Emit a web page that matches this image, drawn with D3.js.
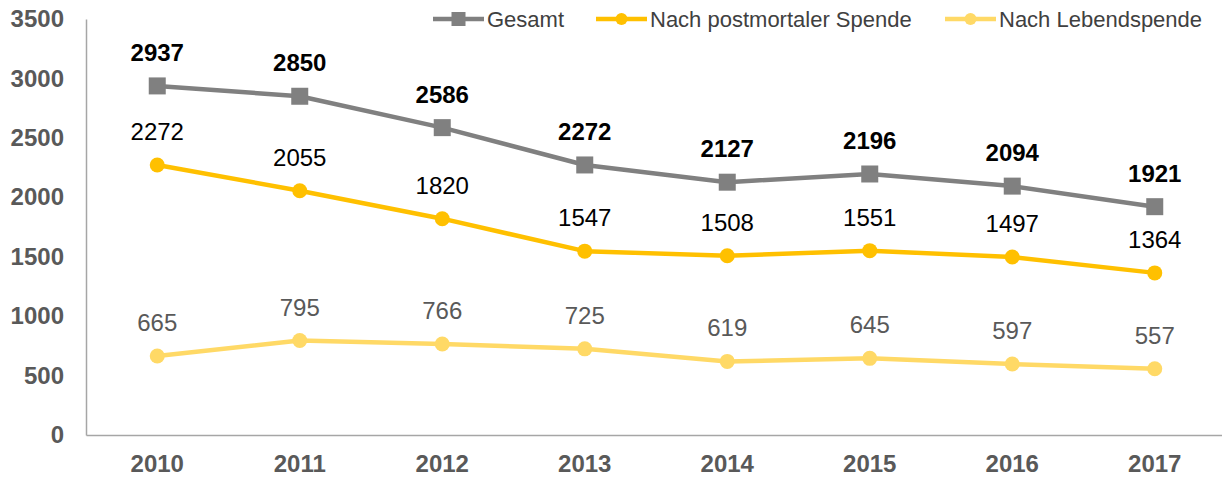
<!DOCTYPE html>
<html><head><meta charset="utf-8">
<script src="https://cdn.jsdelivr.net/npm/d3@7"></script>
<style>body{margin:0;background:#fff;} text{font-family:"Liberation Sans",Arial,sans-serif;}</style>
</head><body><svg id="c" width="1222" height="481"></svg>
<script>
const years = ["2010","2011","2012","2013","2014","2015","2016","2017"];
const gesamt = [2937,2850,2586,2272,2127,2196,2094,1921];
const postmortal = [2272,2055,1820,1547,1508,1551,1497,1364];
const lebend = [665,795,766,725,619,645,597,557];
const yTicks = [0,500,1000,1500,2000,2500,3000,3500];
const seriesNames = ["Gesamt","Nach postmortaler Spende","Nach Lebendspende"];

const svg = d3.select("#c");
const x = d3.scaleBand().domain(years).range([86,1226]);
const y = d3.scaleLinear().domain([0,3500]).range([435,19]);
const cx = d => x(d) + x.bandwidth()/2;

// axes
const yAxis = svg.append("g").attr("transform","translate(86,0)").call(d3.axisLeft(y).tickValues(yTicks).tickFormat(d3.format("d")).tickSize(0).tickPadding(22));
yAxis.select(".domain").attr("stroke","#a6a6a6").attr("stroke-width",1.5);
yAxis.selectAll("text").attr("font-size",24).attr("font-weight","bold").attr("fill","#595959").attr("font-family","Liberation Sans, Arial, sans-serif");
const xAxis = svg.append("g").attr("transform","translate(0,435)").call(d3.axisBottom(x).tickSize(0).tickPadding(20));
xAxis.select(".domain").attr("stroke","#a6a6a6").attr("stroke-width",1.5);
xAxis.selectAll("text").attr("font-size",24).attr("font-weight","bold").attr("fill","#595959").attr("font-family","Liberation Sans, Arial, sans-serif");

const series = [
  {name:seriesNames[0], vals:gesamt, color:"#808080", marker:"square", lblColor:"#000", lblWeight:"bold"},
  {name:seriesNames[1], vals:postmortal, color:"#FFC000", marker:"circle", lblColor:"#000", lblWeight:"normal"},
  {name:seriesNames[2], vals:lebend, color:"#FFD966", marker:"circle", lblColor:"#595959", lblWeight:"normal"}
];
const line = d3.line().x((d,i)=>cx(years[i])).y(d=>y(d));

series.slice().reverse().forEach(s=>{
  const g = svg.append("g");
  g.append("path").attr("d",line(s.vals)).attr("fill","none").attr("stroke",s.color).attr("stroke-width",4.5).attr("stroke-linejoin","round");
  s.vals.forEach((v,i)=>{
    if(s.marker==="square") g.append("rect").attr("x",cx(years[i])-8.5).attr("y",y(v)-8.5).attr("width",17).attr("height",17).attr("fill",s.color);
    else g.append("circle").attr("cx",cx(years[i])).attr("cy",y(v)).attr("r",7.5).attr("fill",s.color);
    g.append("text").attr("x",cx(years[i])).attr("y",y(v)-25).attr("text-anchor","middle")
      .attr("font-size",24).attr("font-weight",s.lblWeight).attr("fill",s.lblColor).text(v);
  });
});

// legend
const legX = [433,596,945];
series.forEach((s,i)=>{
  const g = svg.append("g").attr("transform",`translate(${legX[i]},19)`);
  g.append("line").attr("x1",0).attr("x2",51).attr("stroke",s.color).attr("stroke-width",4.5);
  if(s.marker==="square") g.append("rect").attr("x",25.5-7).attr("y",-7).attr("width",14).attr("height",14).attr("fill",s.color);
  else g.append("circle").attr("cx",25.5).attr("r",6).attr("fill",s.color);
  g.append("text").attr("x",54).attr("y",7.5).attr("font-size",22).attr("fill","#404040").text(s.name);
});
</script></body></html>
